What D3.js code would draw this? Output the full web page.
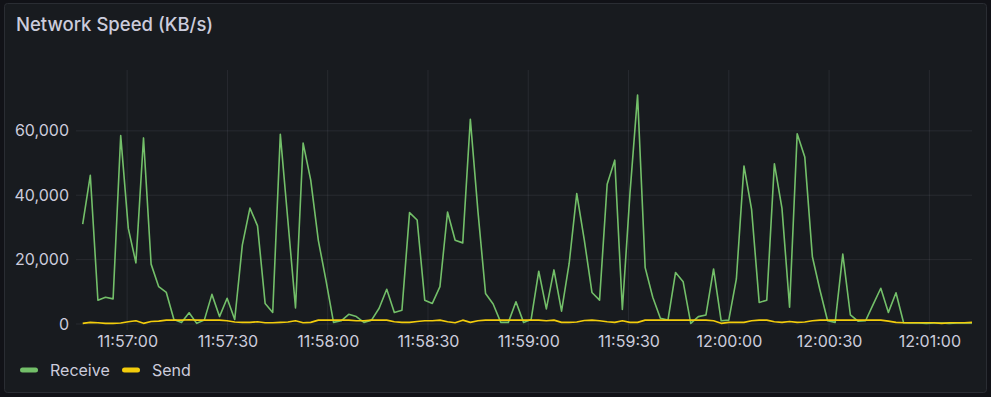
<!DOCTYPE html>
<html>
<head>
<meta charset="utf-8">
<script src="https://cdn.jsdelivr.net/npm/d3@7"></script>
<style>
  html, body { margin: 0; padding: 0; background: #111217; }
  svg { display: block; font-family: Inter, "Open Sans", sans-serif; }
</style>
</head>
<body>
<svg id="chart" width="991" height="397"></svg>
<script>
// sample every ~2.27s starting 11:56:46.7
var startTime = new Date(2024, 0, 1, 11, 56, 46, 700);
var stepMs = 2274;

var receive = [
  31000, 46200, 7400, 8300, 7800, 58500, 29700, 19000, 57800, 18600,
  11600, 9800, 1400, 500, 3500, 200, 1200, 9200, 2300, 8000,
  1400, 24500, 36000, 30500, 6400, 3600, 58900, 32000, 5000, 56200,
  44700, 26000, 13600, 500, 1000, 3000, 2300, 500, 1200, 4900,
  10800, 3600, 4300, 34600, 32300, 7400, 6400, 11600, 34800, 26000,
  25200, 63600, 35000, 9500, 6200, 500, 500, 6900, 500, 1400,
  16400, 4700, 16800, 4000, 18800, 40500, 26000, 9800, 7400, 43400,
  50900, 4500, 40500, 71100, 17500, 8300, 1800, 1200, 16000, 13100,
  200, 2300, 2800, 17100, 1000, 1200, 14000, 49100, 35600, 6700,
  7400, 49800, 35900, 5200, 59100, 51900, 20900, 10500, 1000, 500,
  21700, 2800, 900, 1000, 6100, 11100, 3600, 9700, 400, 300,
  300, 200, 300, 300, 200, 300, 300, 300
];

var send = [
  200, 500, 400, 200, 200, 300, 700, 1000, 200, 800, 900, 1200, 1200, 1200, 1300, 1200, 1200, 1200, 1200, 1000, 600, 500, 500,
  700, 400, 400, 500, 600, 1000, 400, 500, 1200, 1200, 1200, 1200, 1200, 1000, 1000, 1200, 1200, 1200, 700, 500, 500, 800,
  1000, 1000, 1200, 700, 400, 1200, 500, 1000, 1200, 1200, 1200, 1200, 1200, 1200, 1200, 1200, 1000, 1200, 500, 500, 600, 1100,
  1200, 1000, 700, 500, 1000, 500, 500, 1200, 1200, 1200, 1200, 1200, 1200, 1200, 1200, 1200, 1000, 200, 500, 500, 500, 1000,
  1200, 1200, 700, 500, 800, 500, 600, 1000, 1200, 1200, 1200, 1200, 1200, 1200, 1200, 1200, 1200, 900, 500, 400, 400, 400, 400, 400, 200, 400, 400, 400, 500
];

var yTicks = [0, 20000, 40000, 60000];
var seriesNames = ["Receive", "Send"];
var seriesColors = ["#73bf69", "#f2cc0c"];

var times = receive.map(function(d, i) { return new Date(startTime.getTime() + i * stepMs); });

var svg = d3.select("#chart");
var margin = { top: 70, bottom: 73, left: 82.7, right: 19 };
var W = 991, H = 397;

// panel
svg.append("rect")
  .attr("x", 4.5).attr("y", 3.5)
  .attr("width", 982).attr("height", 389)
  .attr("rx", 3)
  .style("fill", "#181b1f")
  .style("stroke", "#2a2d33")
  .style("stroke-width", 1);

svg.append("text")
  .attr("x", 16).attr("y", 31)
  .style("fill", "#ccccdc")
  .style("font-size", "18.5px")
  .style("font-weight", 500)
  .text("Network Speed (KB/s)");

var x = d3.scaleTime()
  .domain([times[0], times[times.length - 1]])
  .range([margin.left, W - margin.right]);

var y = d3.scaleLinear()
  .domain([0, 78900])
  .range([H - margin.bottom, margin.top]);

var gridColor = "rgba(204,204,220,0.09)";

// horizontal grid
svg.append("g").selectAll("line")
  .data(yTicks).enter().append("line")
  .attr("x1", 76).attr("x2", W - margin.right)
  .attr("y1", function(d) { return y(d); })
  .attr("y2", function(d) { return y(d); })
  .style("stroke", gridColor).style("stroke-width", 1);

var xTicks = x.ticks(d3.timeSecond.every(30));

// vertical grid
svg.append("g").selectAll("line")
  .data(xTicks).enter().append("line")
  .attr("x1", function(d) { return x(d); })
  .attr("x2", function(d) { return x(d); })
  .attr("y1", margin.top).attr("y2", H - margin.bottom + 6)
  .style("stroke", gridColor).style("stroke-width", 1);

// y axis labels
var yAxis = d3.axisLeft(y).tickValues(yTicks).tickFormat(d3.format(",")).tickSize(0).tickPadding(0);
var yg = svg.append("g").attr("transform", "translate(69,0)").call(yAxis);
yg.select(".domain").remove();
yg.selectAll("text").style("fill", "#ccccdc").style("font-size", "16px").style("font-family", "Inter, sans-serif");

// x axis labels
var xAxis = d3.axisBottom(x).tickValues(xTicks).tickFormat(d3.timeFormat("%H:%M:%S")).tickSize(0).tickPadding(0);
var xg = svg.append("g").attr("transform", "translate(0," + (H - margin.bottom + 12) + ")").call(xAxis);
xg.select(".domain").remove();
xg.selectAll("text").style("fill", "#ccccdc").style("font-size", "16px").style("font-family", "Inter, sans-serif");

var line = d3.line()
  .x(function(d, i) { return x(times[i]); })
  .y(function(d) { return y(d); });

[receive, send].forEach(function(series, k) {
  svg.append("path")
    .datum(series)
    .attr("d", line)
    .style("fill", "none")
    .style("stroke", seriesColors[k])
    .style("stroke-width", 1.6)
    .style("stroke-linejoin", "round");
});

// legend
var legendX = [20, 122];
seriesNames.forEach(function(name, k) {
  var g = svg.append("g").attr("transform", "translate(" + legendX[k] + ",370)");
  g.append("rect")
    .attr("x", 0).attr("y", -2.5)
    .attr("width", 18).attr("height", 5).attr("rx", 2.5)
    .style("fill", seriesColors[k]);
  g.append("text")
    .attr("x", 30).attr("y", 5.5)
    .style("fill", "#ccccdc")
    .style("font-size", "16px")
    .text(name);
});
</script>
</body>
</html>
